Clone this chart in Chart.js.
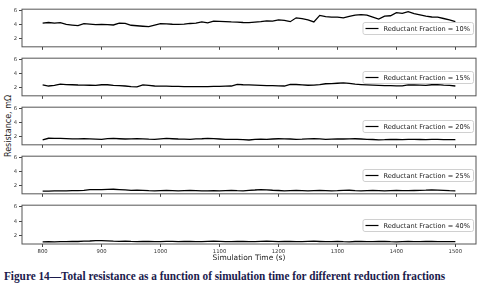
<!DOCTYPE html>
<html lang="en">
<head>
<meta charset="UTF-8">
<title>Total resistance vs simulation time</title>
<script src="https://cdn.jsdelivr.net/npm/chart.js"></script>
<style>
  body { margin: 0; background: #fff; width: 491px; height: 294px; position: relative; overflow: hidden; }
  #ylabel { position: absolute; left: 8px; top: 126px; transform: translate(-50%, -50%) rotate(-90deg); font: 8px "DejaVu Sans"; white-space: nowrap; color: #222; }
  #caption { position: absolute; left: 4px; top: 269px; font: bold 12.5px "Liberation Serif"; color: #1b1b4d; white-space: nowrap; transform-origin: 0 0; }
</style>
</head>
<body>
<div id="ylabel">Resistance, mΩ</div>
<span id="caption">Figure 14—Total resistance as a function of simulation time for different reduction fractions</span>
<script>
const fractions = ["10%", "15%", "20%", "25%", "40%"];
const xTicks = [800, 900, 1000, 1100, 1200, 1300, 1400, 1500];
const yTicks = [2, 4, 6];

// simulation time (s)
const times = [
  800, 810, 820, 830, 840, 850, 860, 870, 880, 890,
  900, 910, 920, 930, 940, 950, 960, 970, 980, 990,
  1000, 1010, 1020, 1030, 1040, 1050, 1060, 1070, 1080, 1090,
  1100, 1110, 1120, 1130, 1140, 1150, 1160, 1170, 1180, 1190,
  1200, 1210, 1220, 1230, 1240, 1250, 1260, 1270, 1280, 1290,
  1300, 1310, 1320, 1330, 1340, 1350, 1360, 1370, 1380, 1390,
  1400, 1410, 1420, 1430, 1440, 1450, 1460, 1470, 1480, 1490,
  1500,
];

// resistance (mOhm) for each reductant fraction
const r10 = [
  4.22, 4.32, 4.22, 4.3, 4.04, 3.95, 3.87, 4.15, 4.08, 4.0,
  4.05, 4.0, 3.96, 4.22, 4.2, 3.92, 3.85, 3.78, 3.72, 3.95,
  4.15, 4.12, 4.07, 4.05, 4.08, 4.18, 4.22, 4.42, 4.28, 4.52,
  4.49, 4.45, 4.4, 4.37, 4.32, 4.31, 4.38, 4.45, 4.55, 4.52,
  4.7, 4.62, 4.44, 5.0, 4.88, 4.7, 4.4, 5.35, 5.18, 5.11,
  5.11, 4.98, 5.2, 5.4, 5.45, 5.38, 5.11, 4.82, 5.25, 5.3,
  5.75, 5.64, 5.9, 5.6, 5.42, 5.25, 5.12, 5.1, 4.9, 4.7,
  4.45,
];
const r15 = [
  2.4, 2.22, 2.3, 2.48, 2.42, 2.4, 2.37, 2.36, 2.33, 2.31,
  2.4, 2.4, 2.31, 2.27, 2.22, 2.12, 2.09, 2.38, 2.3, 2.22,
  2.21, 2.19, 2.18, 2.16, 2.14, 2.13, 2.13, 2.13, 2.14, 2.16,
  2.18, 2.2, 2.22, 2.46, 2.4, 2.38, 2.36, 2.32, 2.29, 2.27,
  2.25, 2.22, 2.45, 2.44, 2.39, 2.33, 2.34, 2.42, 2.55, 2.58,
  2.62, 2.67, 2.6, 2.48, 2.43, 2.38, 2.34, 2.31, 2.29, 2.27,
  2.25, 2.23, 2.38, 2.37, 2.35, 2.32, 2.4, 2.42, 2.36, 2.32,
  2.22,
];
const r20 = [
  1.5, 1.75, 1.74, 1.72, 1.7, 1.65, 1.66, 1.68, 1.66, 1.63,
  1.6, 1.7, 1.73, 1.68, 1.64, 1.65, 1.68, 1.66, 1.62, 1.6,
  1.66, 1.73, 1.68, 1.64, 1.62, 1.6, 1.66, 1.68, 1.73, 1.69,
  1.64, 1.6, 1.6, 1.58, 1.55, 1.5, 1.6, 1.63, 1.6, 1.64,
  1.68, 1.66, 1.64, 1.6, 1.62, 1.66, 1.68, 1.65, 1.6, 1.63,
  1.66, 1.64, 1.66, 1.68, 1.64, 1.6, 1.57, 1.52, 1.55, 1.6,
  1.57, 1.55, 1.58, 1.6, 1.57, 1.55, 1.58, 1.6, 1.56, 1.55,
  1.55,
];
const r25 = [
  1.18, 1.2, 1.22, 1.24, 1.24, 1.25, 1.27, 1.3, 1.4, 1.42,
  1.42, 1.44, 1.46, 1.42, 1.36, 1.3, 1.32, 1.3, 1.26, 1.24,
  1.27, 1.3, 1.27, 1.24, 1.26, 1.29, 1.26, 1.22, 1.24, 1.26,
  1.24, 1.27, 1.3, 1.26, 1.24, 1.3, 1.35, 1.42, 1.38, 1.32,
  1.28, 1.24, 1.27, 1.29, 1.26, 1.24, 1.26, 1.29, 1.27, 1.24,
  1.26, 1.3, 1.32, 1.27, 1.24, 1.26, 1.29, 1.27, 1.24, 1.26,
  1.29, 1.27, 1.25, 1.28, 1.3, 1.33, 1.38, 1.33, 1.29, 1.25,
  1.24,
];
const r40 = [
  1.1, 1.12, 1.1, 1.14, 1.12, 1.18, 1.15, 1.2, 1.22, 1.26,
  1.28, 1.24, 1.2, 1.18, 1.2, 1.16, 1.14, 1.18, 1.15, 1.12,
  1.14, 1.18, 1.16, 1.12, 1.15, 1.18, 1.14, 1.12, 1.16, 1.2,
  1.16, 1.12, 1.14, 1.18, 1.15, 1.12, 1.14, 1.17, 1.2, 1.16,
  1.13, 1.15, 1.18, 1.14, 1.12, 1.16, 1.19, 1.15, 1.12, 1.14,
  1.17, 1.13, 1.11, 1.15, 1.18, 1.14, 1.12, 1.15, 1.17, 1.13,
  1.11, 1.14, 1.17, 1.14, 1.12, 1.15, 1.18, 1.14, 1.12, 1.14,
  1.12,
];
const series = [r10, r15, r20, r25, r40];

// layout of the stacked panels (top of each plot frame, px)
const panelTops = [8, 57, 106, 155, 204];
const panelHeight = 40;
const padTop = 4;

// frame around the plot + matplotlib-style legend box at centre right
const frameAndLegend = {
  id: "frameAndLegend",
  afterDraw(chart) {
    const ctx = chart.ctx;
    const a = chart.chartArea;
    ctx.save();
    ctx.strokeStyle = "#555";
    ctx.lineWidth = 1;
    ctx.strokeRect(a.left, a.top, a.right - a.left, a.bottom - a.top);

    const label = chart.data.datasets[0].label;
    ctx.font = '6.6px "DejaVu Sans"';
    const tw = ctx.measureText(label).width;
    const h = 12;
    const right = a.right - 3;
    const left = right - (21 + tw + 3);
    const top = Math.round((a.top + a.bottom) / 2 - h / 2);
    ctx.fillStyle = "rgba(255,255,255,0.8)";
    ctx.strokeStyle = "#d0d0d0";
    ctx.beginPath();
    ctx.roundRect(left + 0.5, top + 0.5, right - left, h, 2);
    ctx.fill();
    ctx.stroke();
    ctx.strokeStyle = "#000";
    ctx.lineWidth = 1.2;
    ctx.beginPath();
    ctx.moveTo(left + 3, top + h / 2 + 0.5);
    ctx.lineTo(left + 16, top + h / 2 + 0.5);
    ctx.stroke();
    ctx.fillStyle = "#1a1a1a";
    ctx.textBaseline = "middle";
    ctx.fillText(label, left + 21, top + h / 2 + 1);
    ctx.restore();
  },
};

function makePanel(i) {
  const last = i === fractions.length - 1;
  const canvas = document.createElement("canvas");
  canvas.width = 491;
  canvas.height = padTop + panelHeight + (last ? 22 : 4);
  canvas.style.position = "absolute";
  canvas.style.left = "0px";
  canvas.style.top = panelTops[i] - padTop + "px";
  document.body.appendChild(canvas);

  const tickGrid = {
    drawOnChartArea: false,
    drawTicks: true,
    tickLength: 3,
    color: "#444",
  };

  new Chart(canvas, {
    type: "line",
    data: {
      datasets: [
        {
          label: "Reductant Fraction = " + fractions[i],
          data: times.map((t, k) => ({ x: t, y: series[i][k] })),
          borderColor: "#000",
          borderWidth: 1.3,
          pointRadius: 0,
          tension: 0,
        },
      ],
    },
    options: {
      responsive: false,
      animation: false,
      devicePixelRatio: 1,
      layout: { padding: { top: padTop, right: 15, left: 0, bottom: 0 } },
      plugins: { legend: { display: false }, tooltip: { enabled: false } },
      scales: {
        x: {
          type: "linear",
          min: 765,
          max: 1535,
          afterBuildTicks: (s) => {
            s.ticks = xTicks.map((v) => ({ value: v }));
          },
          afterFit: (s) => {
            s.height = last ? 22 : 4;
          },
          grid: tickGrid,
          border: { display: false },
          ticks: {
            display: last,
            autoSkip: false,
            maxRotation: 0,
            padding: 1,
            color: "#333",
            font: { size: 5.3, family: "DejaVu Sans" },
            callback: (v) => String(v),
          },
          title: {
            display: last,
            text: "Simulation Time (s)",
            color: "#222",
            font: { size: 7.5, family: "DejaVu Sans" },
            padding: { top: 0, bottom: 3 },
          },
        },
        y: {
          min: 0.8,
          max: 6.25,
          afterBuildTicks: (s) => {
            s.ticks = yTicks.map((v) => ({ value: v }));
          },
          afterFit: (s) => {
            s.width = 22;
          },
          grid: tickGrid,
          border: { display: false },
          ticks: {
            padding: 2,
            color: "#333",
            font: { size: 5.3, family: "DejaVu Sans" },
            callback: (v) => String(v),
          },
        },
      },
    },
    plugins: [frameAndLegend],
  });
}

fractions.forEach((_, i) => makePanel(i));

// squeeze the caption to the width it has in the figure
const cap = document.getElementById("caption");
cap.style.transform = "scaleX(" + 441 / cap.offsetWidth + ")";
</script>
</body>
</html>
